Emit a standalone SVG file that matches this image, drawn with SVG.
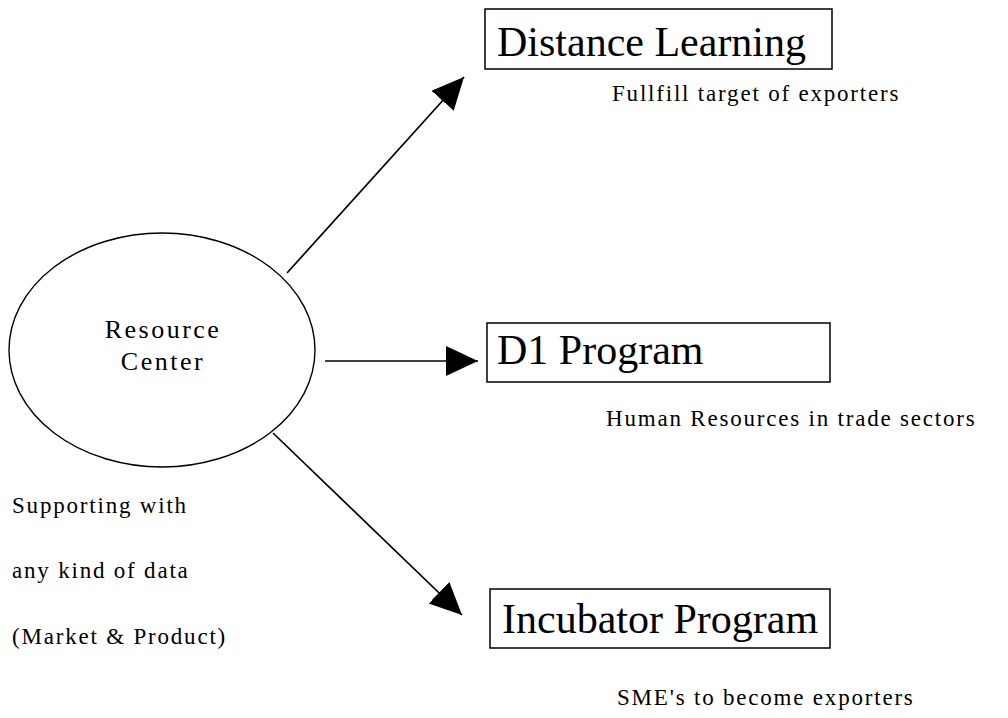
<svg xmlns="http://www.w3.org/2000/svg" width="1008" height="718" viewBox="0 0 1008 718">
  <style>
    text { font-family: "Liberation Serif", "Times New Roman", serif; fill: #000; }
    .box { fill: #fff; stroke: #000; stroke-width: 1.5; }
    .hub { fill: #fff; stroke: #000; stroke-width: 1.4; }
    .big { font-size: 42px; }
    .mid { font-size: 26px; letter-spacing: 2.5px; }
    .note { font-size: 23px; letter-spacing: 1.8px; }
    .link { stroke: #000; stroke-width: 1.7; fill: none; marker-end: url(#head); }
  </style>
  <defs>
    <marker id="head" markerUnits="userSpaceOnUse" markerWidth="34" markerHeight="32" refX="32" refY="15" orient="auto">
      <path d="M0,0 L32,15 L0,30 Z" fill="#000"/>
    </marker>
  </defs>
  <rect width="1008" height="718" fill="#fff"/>

  <g id="connectors">
    <line class="link" x1="287" y1="273" x2="464" y2="77"/>
    <line class="link" x1="325" y1="361" x2="478" y2="361"/>
    <line class="link" x1="273" y1="433" x2="462" y2="615"/>
  </g>

  <g id="resource-center">
    <ellipse class="hub" cx="162" cy="350" rx="153" ry="117"/>
    <text class="mid" x="163" y="338" text-anchor="middle">Resource</text>
    <text class="mid" x="163" y="370" text-anchor="middle">Center</text>
  </g>

  <g id="distance-learning">
    <rect class="box" x="485" y="9" width="347" height="60"/>
    <text class="big" x="497" y="56">Distance Learning</text>
  </g>

  <g id="d1-program">
    <rect class="box" x="487" y="323" width="343" height="59"/>
    <text class="big" x="497" y="364">D1 Program</text>
  </g>

  <g id="incubator-program">
    <rect class="box" x="490" y="589" width="340" height="59"/>
    <text class="big" x="502" y="633">Incubator Program</text>
  </g>

  <g id="notes">
    <text class="note" x="612" y="101">Fullfill target of exporters</text>
    <text class="note" x="606" y="426">Human Resources in trade sectors</text>
    <text class="note" x="617" y="705">SME's to become exporters</text>
    <text class="note" x="12" y="513">Supporting with</text>
    <text class="note" x="12" y="578">any kind of data</text>
    <text class="note" x="12" y="644">(Market &amp; Product)</text>
  </g>
</svg>
